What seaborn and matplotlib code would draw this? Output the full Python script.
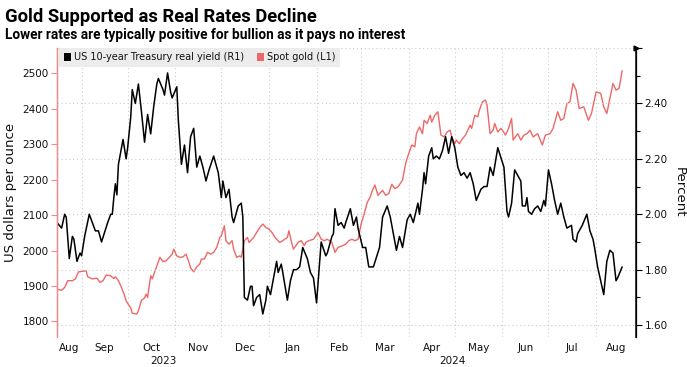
import pandas as pd
import matplotlib
matplotlib.use("Agg")
import matplotlib.pyplot as plt
import matplotlib.dates as mdates
import seaborn as sns
from matplotlib.patches import Patch
from matplotlib.ticker import MultipleLocator, FixedLocator, FixedFormatter, FuncFormatter

# days counted from 2023-08-16
start = pd.Timestamp("2023-08-16")

yield_days = [0, 3, 5, 6, 8, 10, 11, 13, 15, 16,
              18, 21, 25, 27, 29, 33, 35, 36, 37, 38,
              39, 40, 43, 45, 46, 48, 49, 51, 53, 55,
              57, 59, 61, 63, 65, 66, 69, 70, 72, 74,
              75, 78, 79, 81, 83, 85, 87, 89, 91, 93,
              95, 97, 99, 102, 105, 107, 108, 110, 112, 114,
              115, 118, 120, 121, 122, 124, 126, 127, 128, 130,
              132, 134, 136, 137, 139, 143, 144, 146, 147, 150,
              152, 154, 156, 158, 160, 163, 165, 167, 169, 172,
              175, 176, 179, 180, 181, 183, 185, 187, 188, 191,
              193, 195, 196, 199, 201, 203, 206, 210, 212, 215,
              217, 219, 221, 223, 225, 228, 230, 232, 235, 236,
              238, 239, 240, 242, 244, 245, 247, 249, 251, 253,
              255, 257, 259, 261, 263, 265, 267, 269, 271, 273,
              276, 278, 280, 282, 284, 287, 291, 293, 294, 296,
              298, 302, 303, 305, 306, 307, 309, 311, 313, 315,
              317, 318, 320, 322, 324, 326, 328, 330, 332, 335,
              336, 338, 339, 342, 345, 347, 349, 350, 352, 354,
              356, 358, 360, 362, 363, 364, 365, 368]
yield_vals = [1.97, 1.95, 2.00, 1.99, 1.84, 1.92, 1.91, 1.83, 1.86, 1.85,
              1.92, 2.00, 1.94, 1.94, 1.90, 1.97, 2.00, 2.00, 2.06, 2.11,
              2.07, 2.18, 2.27, 2.20, 2.24, 2.35, 2.45, 2.40, 2.47, 2.37,
              2.26, 2.36, 2.29, 2.39, 2.47, 2.49, 2.45, 2.43, 2.51, 2.44,
              2.42, 2.46, 2.34, 2.18, 2.25, 2.15, 2.28, 2.31, 2.17, 2.21,
              2.17, 2.12, 2.16, 2.21, 2.15, 2.06, 2.12, 2.06, 2.09, 1.99,
              1.97, 2.03, 2.04, 1.99, 1.70, 1.69, 1.74, 1.74, 1.67, 1.70,
              1.71, 1.64, 1.69, 1.74, 1.71, 1.83, 1.79, 1.82, 1.79, 1.69,
              1.76, 1.80, 1.80, 1.81, 1.88, 1.84, 1.79, 1.77, 1.68, 1.90,
              1.85, 1.86, 1.92, 1.93, 2.02, 1.96, 1.97, 1.95, 1.97, 2.02,
              1.96, 1.99, 1.95, 1.88, 1.88, 1.81, 1.81, 1.88, 1.99, 2.03,
              1.99, 1.93, 1.87, 1.92, 1.88, 1.98, 2.00, 1.97, 2.04, 2.00,
              2.09, 2.15, 2.11, 2.21, 2.24, 2.20, 2.21, 2.20, 2.23, 2.28,
              2.22, 2.28, 2.24, 2.17, 2.14, 2.15, 2.13, 2.15, 2.11, 2.05,
              2.09, 2.10, 2.10, 2.17, 2.14, 2.24, 2.17, 2.01, 1.99, 2.04,
              2.16, 2.12, 2.03, 2.03, 2.06, 2.01, 2.00, 2.02, 2.03, 2.01,
              2.05, 2.03, 2.16, 2.11, 2.05, 2.00, 2.04, 1.99, 1.95, 1.96,
              1.91, 1.90, 1.93, 1.96, 2.00, 1.94, 1.91, 1.88, 1.81, 1.76,
              1.71, 1.83, 1.87, 1.86, 1.81, 1.76, 1.77, 1.81]

gold_days = [0, 3, 5, 7, 10, 12, 14, 16, 19, 20,
             23, 26, 28, 30, 32, 35, 37, 38, 40, 42,
             44, 45, 48, 49, 52, 53, 55, 57, 58, 59,
             61, 62, 65, 67, 69, 71, 75, 76, 78, 80,
             82, 84, 86, 87, 89, 91, 93, 94, 96, 98,
             100, 102, 104, 106, 107, 109, 110, 112, 114, 115,
             117, 119, 120, 122, 124, 125, 128, 130, 132, 134,
             136, 138, 140, 142, 145, 147, 150, 151, 153, 154,
             157, 159, 161, 162, 164, 167, 170, 172, 174, 176,
             179, 181, 183, 186, 188, 190, 192, 194, 196, 198,
             200, 202, 204, 205, 207, 209, 212, 214, 216, 218,
             220, 222, 225, 227, 229, 231, 233, 234, 236, 238,
             239, 241, 243, 244, 246, 248, 250, 252, 254, 256,
             257, 259, 260, 262, 264, 266, 269, 270, 272, 274,
             275, 277, 279, 280, 282, 284, 285, 287, 289, 290,
             292, 294, 296, 297, 300, 302, 304, 306, 308, 310,
             313, 316, 318, 321, 323, 326, 328, 330, 332, 334,
             336, 338, 340, 343, 346, 348, 351, 354, 356, 358,
             360, 362, 364, 366, 368]
gold_vals = [1891, 1888, 1896, 1915, 1915, 1920, 1940, 1941, 1943, 1926,
             1920, 1922, 1910, 1915, 1931, 1929, 1921, 1926, 1915, 1896,
             1873, 1858, 1838, 1823, 1821, 1830, 1860, 1866, 1877, 1868,
             1929, 1920, 1957, 1981, 1969, 1971, 1990, 2004, 1985, 1981,
             1982, 1990, 1966, 1951, 1940, 1954, 1962, 1976, 1976, 1995,
             1990, 1995, 2009, 2037, 2042, 2070, 2028, 2018, 2028, 2004,
             1981, 1985, 1981, 2028, 2037, 2023, 2037, 2051, 2065, 2075,
             2065, 2061, 2051, 2037, 2023, 2028, 2037, 2056, 2018, 2004,
             2023, 2028, 2014, 2023, 2028, 2032, 2051, 2032, 2028, 2032,
             2023, 1995, 2009, 2014, 2018, 2028, 2032, 2028, 2032, 2075,
             2103, 2136, 2152, 2166, 2185, 2156, 2170, 2156, 2161, 2187,
             2175, 2180, 2199, 2246, 2274, 2298, 2293, 2330, 2349, 2330,
             2368, 2359, 2382, 2363, 2382, 2392, 2326, 2321, 2335, 2340,
             2321, 2302, 2312, 2302, 2316, 2326, 2354, 2345, 2382, 2378,
             2396, 2420, 2425, 2411, 2330, 2340, 2359, 2335, 2345, 2340,
             2326, 2345, 2373, 2312, 2330, 2312, 2326, 2330, 2340, 2321,
             2330, 2298, 2326, 2330, 2345, 2392, 2368, 2373, 2415, 2420,
             2472, 2453, 2401, 2406, 2368, 2387, 2448, 2444, 2406, 2387,
             2429, 2472, 2453, 2458, 2508]

title = "Gold Supported as Real Rates Decline"
subtitle = "Lower rates are typically positive for bullion as it pays no interest"
yield_label = "US 10-year Treasury real yield (R1)"
gold_label = "Spot gold (L1)"

RED = "#ee6868"
SPINE_RED = "#f28a8a"
GRID = "#cccccc"
TXT = "#111111"

yield_dates = start + pd.to_timedelta(yield_days, unit="D")
gold_dates = start + pd.to_timedelta(gold_days, unit="D")
x_end = start + pd.Timedelta(days=377)

sns.set_theme(style="white")
plt.rcParams["font.family"] = ["DejaVu Sans"]

fig = plt.figure(figsize=(6.87, 3.67), dpi=100)
ax = fig.add_axes([57 / 687, 1 - 337 / 367, (636 - 57) / 687, (337 - 48) / 367])
ax2 = ax.twinx()

sns.lineplot(x=gold_dates, y=gold_vals, ax=ax, color=RED, linewidth=1.0)
sns.lineplot(x=yield_dates, y=yield_vals, ax=ax2, color="black", linewidth=1.1)

ax.set_xlim(start, x_end)
ax.set_ylim(1756, 2572)
ax2.set_ylim(1.557, 2.60)

# month gridlines at month starts, labels centred in each month
month_starts = pd.date_range("2023-09-01", "2024-08-01", freq="MS")
edges = [start] + list(month_starts) + [x_end]
mids = [a + (b - a) / 2 for a, b in zip(edges[:-1], edges[1:])]
month_names = [d.strftime("%b") for d in edges[:-1]]
ax.xaxis.set_major_locator(FixedLocator(mdates.date2num(month_starts)))
ax.xaxis.set_major_formatter(FixedFormatter([""] * len(month_starts)))
ax.xaxis.set_minor_locator(FixedLocator(mdates.date2num(mids)))
ax.xaxis.set_minor_formatter(FixedFormatter(month_names))
ax.tick_params(axis="x", which="both", length=0, labelsize=7.5, pad=4, labelcolor=TXT)

jan1 = pd.Timestamp("2024-01-01")
for a, b, yr in [(start, jan1, "2023"), (jan1, x_end, "2024")]:
    ax.annotate(yr, xy=(mdates.date2num(a + (b - a) / 2), 0), xycoords=("data", "axes fraction"),
                xytext=(0, -17), textcoords="offset points", ha="center", va="center",
                fontsize=7.5, color=TXT)

ax.set_yticks(range(1800, 2501, 100))
ax.tick_params(axis="y", which="major", direction="out", length=4, width=0.8,
               color=SPINE_RED, labelcolor=TXT, labelsize=7.5, pad=2)
ax2.yaxis.set_major_locator(MultipleLocator(0.2))
ax2.yaxis.set_minor_locator(MultipleLocator(0.1))
ax2.yaxis.set_major_formatter(FuncFormatter(lambda v, p: "" if v > 2.5 else f"{v:.2f}"))
ax2.tick_params(axis="y", which="major", direction="out", length=4, width=0.8,
                color="black", labelcolor=TXT, labelsize=7.5, pad=2)
ax2.tick_params(axis="y", which="minor", direction="out", length=3, width=0.8, color="black")

ax.grid(axis="x", which="major", color=GRID, linestyle=(0, (1, 2.5)), linewidth=0.8)
ax.grid(axis="y", visible=False)
ax2.grid(axis="y", which="major", color=GRID, linestyle=(0, (1, 2.5)), linewidth=0.8)
ax2.grid(axis="x", visible=False)

for a in (ax, ax2):
    a.spines["top"].set_visible(False)
    a.spines["bottom"].set_visible(False)
for a in (ax, ax2):
    a.spines["left"].set_color(SPINE_RED)
    a.spines["left"].set_linewidth(0.9)
ax2.spines["right"].set_color("black")
ax2.spines["right"].set_linewidth(0.9)
ax2.plot([1.0], [1.0], marker=">", markersize=3.5, color="black",
         transform=ax2.transAxes, clip_on=False)

ax.set_xlabel("")
ax.set_ylabel("US dollars per ounce", fontsize=9.6, color=TXT, labelpad=4)
ax2.set_ylabel("Percent", fontsize=9.6, color=TXT, rotation=270, va="bottom", labelpad=4)

handles = [Patch(facecolor="black", edgecolor="none", label=yield_label),
           Patch(facecolor=RED, edgecolor="none", label=gold_label)]
leg = ax2.legend(handles=handles, loc="upper left", bbox_to_anchor=(0.004, 1.0), ncol=2,
                 frameon=True, fancybox=False, facecolor="#ececec", edgecolor="none",
                 framealpha=1, fontsize=7, borderpad=0.45, handlelength=0.75,
                 handleheight=0.75, handletextpad=0.3, columnspacing=1.3, borderaxespad=0)
for t in leg.get_texts():
    t.set_color(TXT)

fig.text(5 / 687, 1 - 22 / 367, title, fontsize=13.2, fontweight="bold", color="black",
         family=["Roboto", "DejaVu Sans"], va="baseline", ha="left")
fig.text(5 / 687, 1 - 39.5 / 367, subtitle, fontsize=9.8, fontweight="bold", color="black",
         family=["Roboto", "DejaVu Sans"], va="baseline", ha="left")

fig.savefig("out.png", dpi=100)
